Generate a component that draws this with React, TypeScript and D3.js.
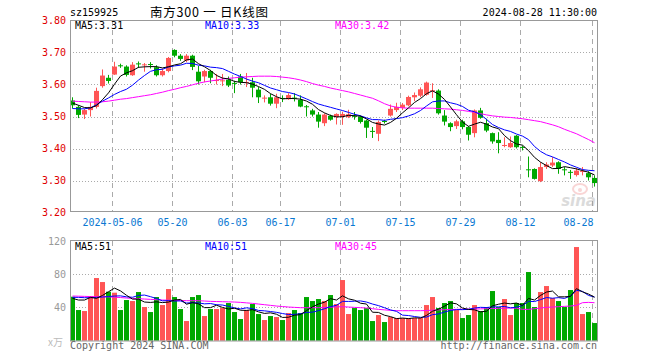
import React from 'react';
import * as d3 from 'd3';

// ---------- data ----------
const tickIdx = [7, 17, 27, 35, 45, 55, 65, 75, 87];
const tickLabels = ['2024-05-06', '05-20', '06-03', '06-17', '07-01', '07-15', '07-29', '08-12', '08-28'];

const opens = [
  3.55, 3.53, 3.506, 3.52, 3.53, 3.595, 3.621, 3.631, 3.66, 3.656,
  3.629, 3.666, 3.661, 3.664, 3.654, 3.629, 3.642, 3.708, 3.69, 3.675,
  3.69, 3.64, 3.625, 3.642, 3.611, 3.611, 3.615, 3.605, 3.625, 3.606,
  3.607, 3.584, 3.557, 3.56, 3.54, 3.558, 3.554, 3.559, 3.552, 3.532,
  3.519, 3.506, 3.479, 3.502, 3.498, 3.499, 3.498, 3.502, 3.50, 3.4875,
  3.455, 3.446, 3.486, 3.503, 3.52, 3.527, 3.535, 3.56, 3.565, 3.568,
  3.58, 3.581, 3.503, 3.479, 3.47, 3.485, 3.467, 3.448, 3.519, 3.479,
  3.448, 3.427, 3.409, 3.404, 3.44, 3.405, 3.335, 3.336, 3.298, 3.342,
  3.347, 3.357, 3.335, 3.327, 3.317, 3.328, 3.323, 3.308,
];
const highs = [
  3.56, 3.535, 3.524, 3.545, 3.59, 3.647, 3.63, 3.671, 3.665, 3.66,
  3.67, 3.672, 3.667, 3.67, 3.66, 3.65, 3.686, 3.71, 3.695, 3.695,
  3.693, 3.658, 3.646, 3.646, 3.633, 3.633, 3.625, 3.612, 3.633, 3.636,
  3.621, 3.592, 3.566, 3.571, 3.571, 3.566, 3.573, 3.573, 3.566, 3.536,
  3.524, 3.514, 3.51, 3.506, 3.51, 3.515, 3.521, 3.514, 3.503, 3.49,
  3.467, 3.4875, 3.49, 3.5375, 3.543, 3.542, 3.565, 3.575, 3.591, 3.609,
  3.604, 3.585, 3.52, 3.482, 3.49, 3.49, 3.47, 3.522, 3.527, 3.493,
  3.45, 3.451, 3.435, 3.4375, 3.442, 3.409, 3.375, 3.338, 3.357, 3.357,
  3.373, 3.36, 3.342, 3.333, 3.339, 3.342, 3.329, 3.316,
];
const lows = [
  3.525, 3.495, 3.492, 3.50, 3.525, 3.59, 3.603, 3.63, 3.652, 3.625,
  3.627, 3.652, 3.64, 3.65, 3.625, 3.625, 3.638, 3.685, 3.674, 3.67,
  3.645, 3.60, 3.607, 3.604, 3.60, 3.595, 3.592, 3.573, 3.60, 3.592,
  3.56, 3.542, 3.544, 3.534, 3.526, 3.545, 3.552, 3.547, 3.529, 3.50,
  3.50, 3.465, 3.47, 3.487, 3.475, 3.474, 3.495, 3.49, 3.478, 3.433,
  3.433, 3.423, 3.478, 3.50, 3.514, 3.52, 3.532, 3.548, 3.56, 3.565,
  3.558, 3.506, 3.472, 3.454, 3.461, 3.46, 3.425, 3.435, 3.493, 3.451,
  3.415, 3.385, 3.404, 3.402, 3.40, 3.394, 3.31, 3.303, 3.295, 3.336,
  3.342, 3.321, 3.316, 3.305, 3.3125, 3.316, 3.30, 3.281,
];
const closes = [
  3.535, 3.505, 3.52, 3.53, 3.58, 3.628, 3.611, 3.656, 3.657, 3.63,
  3.662, 3.664, 3.663, 3.661, 3.629, 3.642, 3.683, 3.69, 3.68, 3.69,
  3.655, 3.61, 3.642, 3.621, 3.614, 3.613, 3.597, 3.603, 3.607, 3.608,
  3.59, 3.56, 3.559, 3.54, 3.56, 3.556, 3.567, 3.557, 3.531, 3.530,
  3.506, 3.484, 3.506, 3.49, 3.508, 3.508, 3.507, 3.50, 3.483, 3.465,
  3.452, 3.483, 3.483, 3.524, 3.53, 3.537, 3.561, 3.567, 3.585, 3.606,
  3.582, 3.51, 3.484, 3.467, 3.485, 3.467, 3.443, 3.519, 3.496, 3.456,
  3.422, 3.417, 3.411, 3.417, 3.404, 3.403, 3.333, 3.305, 3.342, 3.35,
  3.356, 3.336, 3.333, 3.325, 3.331, 3.330, 3.31, 3.292,
];
const volumes = [
  52.8, 36.8, 35.6, 53.6, 75.2, 70.4, 58.8, 57.6, 36.8, 48.8,
  47.6, 58.4, 40.4, 34.4, 52.4, 42.8, 62, 52.4, 38, 23.6,
  52.4, 54.8, 29.6, 38, 38, 39.2, 45.2, 34.4, 26, 36.8,
  44, 32, 24.8, 29.6, 28.4, 24.8, 33.2, 36.8, 33.2, 52.4,
  47.6, 50, 47.6, 54.8, 44, 72.8, 32, 39.2, 36.8, 39.2,
  23.6, 30.8, 22.4, 28.4, 27.2, 27.2, 27.2, 27.2, 27.2, 42.8,
  52.4, 39.2, 45.2, 47.6, 36.8, 27.2, 30.8, 42.8, 35.6, 40.4,
  59.6, 40.4, 50, 30.8, 45.2, 45.2, 82.4, 40.4, 58.4, 65.6,
  51.2, 47.6, 40.4, 60.8, 112.4, 32, 34.4, 21.2,
];
// moving averages before enough history is on screen
const priceMa5Lead = [3.542, 3.535, 3.528, 3.527];
const priceMa10Lead = [3.525, 3.524, 3.524, 3.527, 3.537, 3.548, 3.558, 3.569, 3.578];
const priceMa30 = [
  3.548, 3.547, 3.546, 3.545, 3.545, 3.546, 3.548, 3.551, 3.554, 3.556,
  3.559, 3.562, 3.565, 3.568, 3.572, 3.576, 3.581, 3.585, 3.590, 3.594,
  3.599, 3.604, 3.608, 3.611, 3.614, 3.617, 3.619, 3.621, 3.623, 3.624,
  3.625, 3.626, 3.626, 3.626, 3.625, 3.623, 3.621, 3.618, 3.614, 3.609,
  3.603, 3.598, 3.594, 3.589, 3.585, 3.581, 3.577, 3.572, 3.567, 3.562,
  3.557, 3.549, 3.540, 3.533, 3.529, 3.527, 3.526, 3.526, 3.526, 3.526,
  3.526, 3.525, 3.524, 3.523, 3.521, 3.519, 3.516, 3.513, 3.509, 3.505,
  3.502, 3.500, 3.498, 3.497, 3.495, 3.493, 3.490, 3.487, 3.484, 3.479,
  3.474, 3.468, 3.460, 3.453, 3.446, 3.437, 3.428, 3.418,
];
const volMa5Lead = [50.8, 48.8, 48.8, 52];
const volMa10Lead = [52, 52, 51.6, 51.6, 52, 52.4, 53, 53.6, 53.8];
const volMa30 = [
  53.6, 53.4, 53.2, 53.0, 52.8, 52.8, 52.6, 52.2, 51.8, 51.2,
  50.8, 50.4, 50.0, 49.6, 49.2, 48.8, 48.6, 48.4, 48.2, 48.0,
  48.0, 48.0, 47.6, 47.2, 47.0, 46.8, 46.6, 46.4, 46.0, 45.4,
  44.8, 44.0, 43.2, 42.4, 41.6, 41.0, 40.4, 40.0, 39.6, 39.6,
  39.6, 39.6, 39.8, 40.2, 40.6, 40.8, 40.4, 40.0, 39.6, 39.2,
  38.4, 37.6, 37.0, 36.4, 36.0, 36.0, 36.0, 36.0, 36.0, 36.2,
  36.6, 37.0, 37.2, 37.4, 37.6, 37.8, 38.0, 38.0, 38.2, 38.4,
  38.6, 38.8, 39.0, 39.2, 39.0, 37.6, 37.6, 38.4, 39.2, 40.0,
  40.4, 40.8, 41.2, 41.6, 42.4, 45.6, 46.0, 45.6,
];
const priceTicks = [3.2, 3.3, 3.4, 3.5, 3.6, 3.7, 3.8];
const volTicks = [40, 80, 120];

// ---------- helpers ----------
function movingAvg(arr: number[], n: number, lead: number[]): number[] {
  return arr.map((_, i) => (i < n - 1 ? lead[i] : (d3.mean(arr.slice(i - n + 1, i + 1)) as number)));
}

const W = 660;
const H = 360;
const L = 70;
const R = 597.5;
const RED = '#ff5555';
const GREEN = '#00a800';
const MONO = '"DejaVu Sans Mono", monospace';

export default function App() {
  const n = closes.length;
  const x = d3.scaleLinear().domain([0, n - 1]).range([72.5, 72.5 + 6 * (n - 1)]);
  const yP = d3.scaleLinear().domain([3.2, 3.8]).range([212.5, 20.5]);
  const yV = d3.scaleLinear().domain([0, 120]).range([340.7, 240.7]);

  const pMa5 = movingAvg(closes, 5, priceMa5Lead);
  const pMa10 = movingAvg(closes, 10, priceMa10Lead);
  const vMa5 = movingAvg(volumes, 5, volMa5Lead);
  const vMa10 = movingAvg(volumes, 10, volMa10Lead);

  const lineP = d3.line<number>().x((_, i) => x(i)).y((d) => yP(d));
  const lineV = d3.line<number>().x((_, i) => x(i)).y((d) => yV(d));

  const up = closes.map((c, i) => c >= opens[i]);

  return (
    <div style={{ position: 'absolute', left: 0, top: 0 }}>
      <svg width={W} height={H} style={{ display: 'block', background: '#fff' }}>
        {/* header */}
        <text x={70} y={16} fontFamily={MONO} fontSize={10} fill="#000">sz159925</text>
        <text x={150} y={17} fontFamily='"Noto Sans CJK SC", sans-serif' fontSize={12.5} fill="#000"
          textLength={118} lengthAdjust="spacing" style={{ whiteSpace: 'pre' }}>南方300 一 日K线图</text>
        <text x={597} y={16} fontFamily={MONO} fontSize={10} fill="#000" textAnchor="end">2024-08-28 11:30:00</text>

        {/* price grid */}
        {priceTicks.slice(1, -1).map((t) => (
          <line key={'hp' + t} x1={L} x2={R} y1={Math.round(yP(t)) + 0.5} y2={Math.round(yP(t)) + 0.5}
            stroke="#aaa" strokeDasharray="1,2" />
        ))}
        {tickIdx.map((t) => (
          <g key={'vg' + t}>
            <line x1={x(t) - 2} x2={x(t) - 2} y1={21} y2={211} stroke="#aaa" strokeDasharray="5,4" />
            <line x1={x(t) - 2} x2={x(t) - 2} y1={241} y2={340} stroke="#aaa" strokeDasharray="5,4" />
          </g>
        ))}
        {volTicks.slice(0, -1).map((t) => (
          <line key={'hv' + t} x1={L} x2={R} y1={Math.round(yV(t)) + 0.5} y2={Math.round(yV(t)) + 0.5}
            stroke="#aaa" strokeDasharray="1,2" />
        ))}

        {/* price axis labels */}
        {priceTicks.map((t) => (
          <text key={'pl' + t} x={66} y={yP(t) + 3.8} fontFamily={MONO} fontSize={10} fill="#e00000"
            textAnchor="end">{t.toFixed(2)}</text>
        ))}
        {tickIdx.map((t, k) => (
          <text key={'xl' + t} x={k === tickIdx.length - 1 ? x(t) - 1 : x(t) - 2} y={226} fontFamily={MONO}
            fontSize={10} fill="#0a78d2" textAnchor={k === tickIdx.length - 1 ? 'end' : 'middle'}>{tickLabels[k]}</text>
        ))}

        {/* sina watermark */}
        <g opacity={0.35}>
          <ellipse cx={580} cy={189} rx={7} ry={5} fill="none" stroke="#e88" strokeWidth={2} />
          <circle cx={580} cy={190} r={2} fill="#e88" />
          <text x={596} y={206} fontFamily='"DejaVu Sans", sans-serif' fontSize={15} fontWeight="bold"
            fontStyle="italic" fill="#999" textAnchor="end">sina</text>
        </g>

        {/* candles */}
        {closes.map((c, i) => {
          const col = up[i] ? RED : GREEN;
          const top = yP(Math.max(opens[i], c));
          const bot = yP(Math.min(opens[i], c));
          const h = Math.max(1, bot - top);
          return (
            <g key={'c' + i}>
              <line x1={x(i)} x2={x(i)} y1={yP(highs[i])} y2={yP(lows[i])} stroke={col} />
              <rect x={x(i) - 2.5} y={top} width={5} height={h} fill={col} />
            </g>
          );
        })}

        {/* price MAs */}
        <path d={lineP(priceMa30) || ''} fill="none" stroke="#ff00ff" strokeWidth={1} />
        <path d={lineP(pMa10) || ''} fill="none" stroke="#0000ff" strokeWidth={1} />
        <path d={lineP(pMa5) || ''} fill="none" stroke="#000" strokeWidth={1} />

        {/* price legend */}
        <text x={75} y={29} fontFamily={MONO} fontSize={10} fill="#000">MA5:3.31</text>
        <text x={205} y={29} fontFamily={MONO} fontSize={10} fill="#0000ff">MA10:3.33</text>
        <text x={335} y={29} fontFamily={MONO} fontSize={10} fill="#ff00ff">MA30:3.42</text>

        {/* price frame */}
        <rect x={70.5} y={20.5} width={R - 70.5} height={191} fill="none" stroke="#999" />

        {/* volume bars */}
        {volumes.map((v, i) => (
          <rect key={'v' + i} x={x(i) - 2.5} y={yV(v)} width={5} height={yV(0) - yV(v)} fill={up[i] ? RED : GREEN} />
        ))}
        <path d={lineV(volMa30) || ''} fill="none" stroke="#ff00ff" strokeWidth={1} />
        <path d={lineV(vMa10) || ''} fill="none" stroke="#0000ff" strokeWidth={1} />
        <path d={lineV(vMa5) || ''} fill="none" stroke="#000" strokeWidth={1} />

        <text x={75} y={250} fontFamily={MONO} fontSize={10} fill="#000">MA5:51</text>
        <text x={205} y={250} fontFamily={MONO} fontSize={10} fill="#0000ff">MA10:51</text>
        <text x={335} y={250} fontFamily={MONO} fontSize={10} fill="#ff00ff">MA30:45</text>

        {volTicks.map((t) => (
          <text key={'vl' + t} x={66} y={yV(t) + 3.8} fontFamily={MONO} fontSize={10} fill="#999"
            textAnchor="end">{t}</text>
        ))}
        <text x={63} y={346} fontFamily='"Noto Sans CJK SC", sans-serif' fontSize={10} fill="#bbb"
          textAnchor="end">x万</text>

        <rect x={70.5} y={240.5} width={R - 70.5} height={100.5} fill="none" stroke="#999" />

        <text x={70} y={349} fontFamily={MONO} fontSize={10} fill="#666">Copyright 2024 SINA.COM</text>
        <text x={597} y={349} fontFamily={MONO} fontSize={10} fill="#666" textAnchor="end">http://finance.sina.com.cn</text>
      </svg>
    </div>
  );
}
